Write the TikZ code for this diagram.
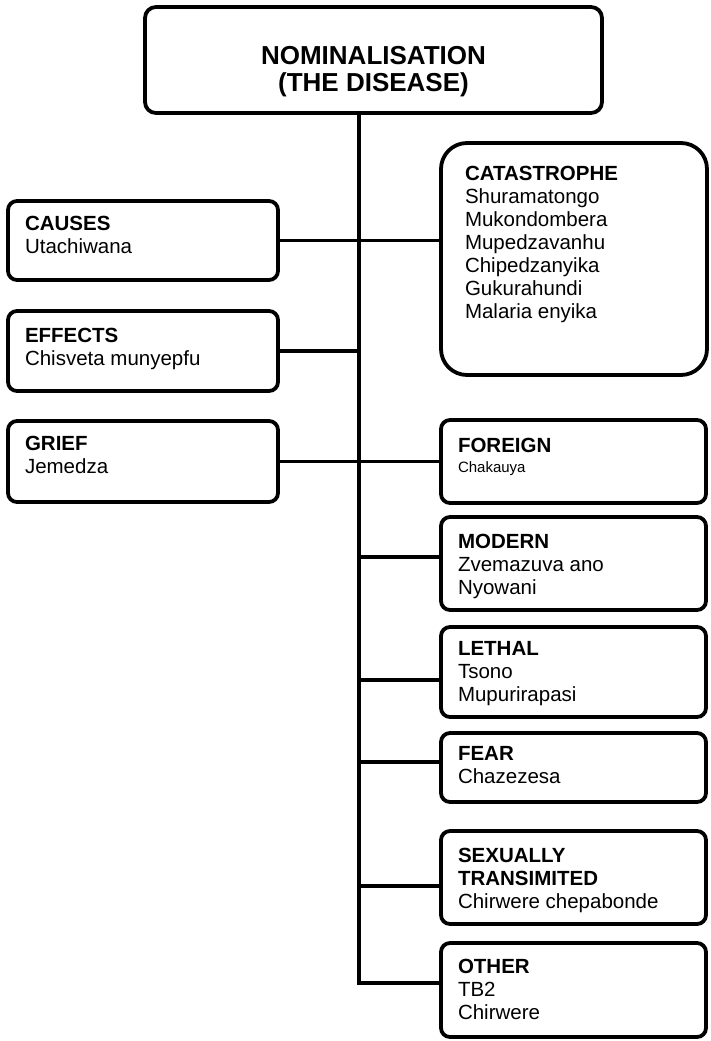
\documentclass[tikz,border=0pt]{standalone}
\usepackage{fontspec}
\setmainfont{Liberation Sans}
\begin{document}
\begin{tikzpicture}[x=1pt,y=-1pt,
  box/.style={draw=black, line width=3.8pt, rounded corners=9pt, inner sep=0pt, outer sep=0pt, minimum width=265pt},
  bigbox/.style={box, rounded corners=26pt},
  conn/.style={draw=black, line width=3.8pt},
  txt/.style={anchor=base west, inner sep=0pt, outer sep=0pt, font=\fontsize{20.5}{23}\selectfont},
  small/.style={font=\fontsize{15}{18}\selectfont}
]
\useasboundingbox (0,0) rectangle (710,1041);

% boxes
\node[box, minimum width=457pt, minimum height=106pt, rounded corners=11pt] (top) at (373.5,60) {};
\node[box, minimum width=270pt, minimum height=79pt] (c1) at (143,240.5) {};
\node[box, minimum width=270pt, minimum height=80pt] (c2) at (143,351) {};
\node[box, minimum width=270pt, minimum height=81pt] (c3) at (143,461.5) {};
\node[bigbox, minimum width=266pt, minimum height=232pt] (r1) at (574,259) {};
\node[box, minimum height=83pt] (r2) at (573.5,461.5) {};
\node[box, minimum height=93pt] (r3) at (573.5,563.5) {};
\node[box, minimum height=90pt] (r4) at (573.5,672) {};
\node[box, minimum height=69pt] (r5) at (573.5,767.5) {};
\node[box, minimum height=93pt] (r6) at (573.5,877.5) {};
\node[box, minimum height=94pt] (r7) at (573.5,990) {};

% texts
\node[anchor=base, inner sep=0pt, align=center, font=\fontsize{26}{26}\selectfont\bfseries] (topt) at (373.5,91) {NOMINALISATION\\(THE DISEASE)};
\node[txt] (c1t) at (25,230) {\parbox[t]{240pt}{\textbf{CAUSES}\\Utachiwana}};
\node[txt] (c2t) at (25,342) {\parbox[t]{240pt}{\textbf{EFFECTS}\\Chisveta munyepfu}};
\node[txt] (c3t) at (25,450) {\parbox[t]{240pt}{\textbf{GRIEF}\\Jemedza}};
\node[txt] (r1t) at (465,180) {\parbox[t]{230pt}{\textbf{CATASTROPHE}\\Shuramatongo\\Mukondombera\\Mupedzavanhu\\Chipedzanyika\\Gukurahundi\\Malaria enyika}};
\node[txt] (r2t) at (458,452) {\textbf{FOREIGN}};
\node[txt, small] (r2s) at (458,472) {Chakauya};
\node[txt] (r3t) at (458,548) {\parbox[t]{240pt}{\textbf{MODERN}\\Zvemazuva ano\\Nyowani}};
\node[txt] (r4t) at (458,655) {\parbox[t]{240pt}{\textbf{LETHAL}\\Tsono\\Mupurirapasi}};
\node[txt] (r5t) at (458,760) {\parbox[t]{240pt}{\textbf{FEAR}\\Chazezesa}};
\node[txt] (r6t) at (458,862) {\parbox[t]{240pt}{\textbf{SEXUALLY}\\\textbf{TRANSIMITED}\\Chirwere chepabonde}};
\node[txt] (r7t) at (458,973) {\parbox[t]{240pt}{\textbf{OTHER}\\TB2\\Chirwere}};

% connectors
\coordinate (tb) at (359,983);
\coordinate (r3w) at ([yshift=6.5pt]r3.west);
\coordinate (r4w) at ([yshift=-8pt]r4.west);
\coordinate (r5w) at ([yshift=5.5pt]r5.west);
\coordinate (r6w) at ([yshift=-8.5pt]r6.west);
\draw[conn] (top.south -| tb) -- (tb) -- (tb -| r7.west);
\draw[conn] (c1.east) -- (c1.east -| r1.west);
\draw[conn] (c2.east) -- (c2.east -| tb);
\draw[conn] (c3.east) -- (c3.east -| r2.west);
\draw[conn] (tb |- r3w) -- (r3w);
\draw[conn] (tb |- r4w) -- (r4w);
\draw[conn] (tb |- r5w) -- (r5w);
\draw[conn] (tb |- r6w) -- (r6w);
\end{tikzpicture}
\end{document}
